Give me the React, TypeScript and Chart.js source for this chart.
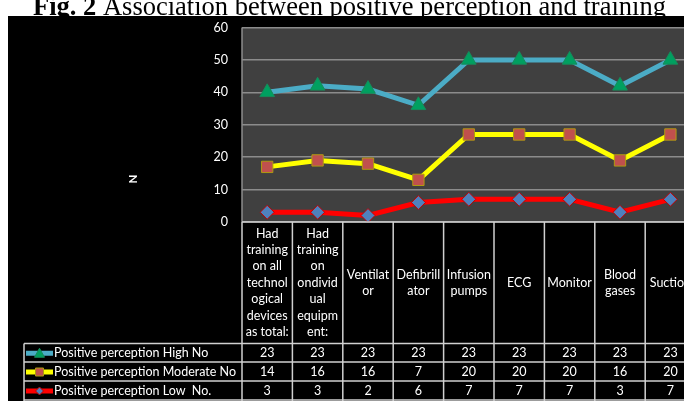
import React, { useEffect, useRef } from "react";
import { Chart, registerables } from "chart.js";

Chart.register(...registerables);

const titleBold = "Fig. 2";
const titleRest = " Association between positive perception and training";
const yAxisLabel = "N";

const categoryLines: string[][] = [
  ["Had", "training", "on all", "technol", "ogical", "devices", "as total:"],
  ["Had", "training", "on", "ondivid", "ual", "equipm", "ent:"],
  ["Ventilat", "or"],
  ["Defibrill", "ator"],
  ["Infusion", "pumps"],
  ["ECG"],
  ["Monitor"],
  ["Blood", "gases"],
  ["Suction"],
];
const categories = categoryLines.map((l) => l.join(""));

const seriesNames = [
  "Positive perception High No",
  "Positive perception Moderate No",
  "Positive perception Low  No.",
];
const highNo = [23, 23, 23, 23, 23, 23, 23, 23, 23];
const moderateNo = [14, 16, 16, 7, 20, 20, 20, 16, 20];
const lowNo = [3, 3, 2, 6, 7, 7, 7, 3, 7];

const yMin = 0;
const yMax = 60;
const yStep = 10;

const CANVAS_W = 720;
const CANVAS_H = 401;
const FONT = "Lato, 'Noto Sans', sans-serif";

const lineColors = ["#4bacc6", "#ffff00", "#ff0000"];
const markerFill = ["#00a060", "#c0504d", "#4f81bd"];
const markerBorder = ["#178a5a", "#b09a10", "#c00000"];
const markerStyle: any[] = ["triangle", "rect", "rectRot"];
const markerRadius = [8.5, 8, 7];

export default function App() {
  const ref = useRef<HTMLCanvasElement | null>(null);

  useEffect(() => {
    const canvas = ref.current;
    if (!canvas) return;
    const tableValues = [highNo, moderateNo, lowNo];

    const drawMarker = (ctx: CanvasRenderingContext2D, k: number, x: number, y: number, r: number) => {
      ctx.save();
      ctx.fillStyle = markerFill[k];
      ctx.strokeStyle = markerBorder[k];
      ctx.lineWidth = 1;
      ctx.beginPath();
      if (k === 0) {
        ctx.moveTo(x, y - r);
        ctx.lineTo(x + r, y + r * 0.8);
        ctx.lineTo(x - r, y + r * 0.8);
      } else if (k === 1) {
        ctx.rect(x - r, y - r, 2 * r, 2 * r);
      } else {
        ctx.moveTo(x, y - r);
        ctx.lineTo(x + r, y);
        ctx.lineTo(x, y + r);
        ctx.lineTo(x - r, y);
      }
      ctx.closePath();
      ctx.fill();
      ctx.stroke();
      ctx.restore();
    };

    const framePlugin = {
      id: "frame",
      beforeDraw(chart: any) {
        const ctx = chart.ctx as CanvasRenderingContext2D;
        const a = chart.chartArea;
        ctx.save();
        ctx.fillStyle = "#ffffff";
        ctx.fillRect(0, 0, CANVAS_W, CANVAS_H);
        // title
        ctx.fillStyle = "#000000";
        ctx.textBaseline = "alphabetic";
        ctx.textAlign = "left";
        ctx.font = "bold 26.5px 'Liberation Serif', serif";
        const tx = 33;
        const ty = 14.5;
        ctx.fillText(titleBold, tx, ty);
        const bw = ctx.measureText(titleBold).width;
        ctx.font = "26.5px 'Liberation Serif', serif";
        ctx.fillText(titleRest, tx + bw, ty);
        // black chart background
        ctx.fillStyle = "#000000";
        ctx.fillRect(8, 16, CANVAS_W - 8, CANVAS_H - 16);
        // plot area
        ctx.fillStyle = "#404040";
        ctx.fillRect(a.left, a.top, a.right - a.left, a.bottom - a.top);
        ctx.restore();
      },
      afterDraw(chart: any) {
        const ctx = chart.ctx as CanvasRenderingContext2D;
        const a = chart.chartArea;
        const n = categories.length;
        const colW = (a.right - a.left) / n;
        const headerTop = a.bottom;
        const rowTops = [343.5, 362, 381, 400];
        const legendLeft = 24;
        ctx.save();
        // left plot border
        ctx.strokeStyle = "#8c8c8c";
        ctx.lineWidth = 1.5;
        ctx.beginPath();
        ctx.moveTo(a.left, a.top);
        ctx.lineTo(a.left, a.bottom);
        ctx.stroke();

        // table grid
        ctx.strokeStyle = "#d0d0d0";
        ctx.lineWidth = 1.5;
        ctx.beginPath();
        ctx.moveTo(a.left, headerTop);
        ctx.lineTo(CANVAS_W, headerTop);
        for (const yy of rowTops) {
          ctx.moveTo(legendLeft, yy);
          ctx.lineTo(CANVAS_W, yy);
        }
        for (let i = 0; i <= n; i++) {
          const x = a.left + i * colW;
          ctx.moveTo(x, headerTop);
          ctx.lineTo(x, CANVAS_H);
        }
        ctx.moveTo(legendLeft, rowTops[0]);
        ctx.lineTo(legendLeft, CANVAS_H);
        ctx.stroke();

        // header text
        ctx.fillStyle = "#ffffff";
        ctx.textAlign = "center";
        ctx.textBaseline = "middle";
        ctx.font = `12.5px ${FONT}`;
        const lh = 16.4;
        const hc = (headerTop + rowTops[0]) / 2;
        categoryLines.forEach((lines, i) => {
          const cx = a.left + (i + 0.5) * colW;
          const y0 = hc - ((lines.length - 1) * lh) / 2;
          lines.forEach((s, j) => ctx.fillText(s, cx, y0 + j * lh));
        });

        // data rows
        for (let r = 0; r < 3; r++) {
          const cy = (rowTops[r] + rowTops[r + 1]) / 2 + 0.5;
          tableValues[r].forEach((v, i) => {
            const cx = a.left + (i + 0.5) * colW;
            ctx.fillText(String(v), cx, cy);
          });
          // legend key
          ctx.strokeStyle = lineColors[r];
          ctx.lineWidth = 5;
          ctx.beginPath();
          ctx.moveTo(26, cy);
          ctx.lineTo(53, cy);
          ctx.stroke();
          drawMarker(ctx, r, 39.5, cy, r === 0 ? 5 : 4);
          ctx.fillStyle = "#ffffff";
          ctx.textAlign = "left";
          ctx.fillText(seriesNames[r], 54, cy);
          ctx.textAlign = "center";
        }

        // axis title
        ctx.save();
        ctx.translate(133, 179);
        ctx.rotate(-Math.PI / 2);
        ctx.font = `bold 11.5px ${FONT}`;
        ctx.fillStyle = "#ffffff";
        ctx.textAlign = "center";
        ctx.textBaseline = "middle";
        ctx.fillText(yAxisLabel, 0, 0);
        ctx.restore();
        ctx.restore();
      },
    };

    // stacked: lowest series first
    const order = [2, 1, 0];
    const datasets = order.map((k) => ({
      label: seriesNames[k],
      data: [highNo, moderateNo, lowNo][k],
      borderColor: lineColors[k],
      backgroundColor: markerFill[k],
      borderWidth: 5,
      fill: false,
      tension: 0,
      pointStyle: markerStyle[k],
      pointRadius: markerRadius[k],
      pointBackgroundColor: markerFill[k],
      pointBorderColor: markerBorder[k],
      pointBorderWidth: 1,
    }));

    const chart = new Chart(canvas, {
      type: "line",
      data: { labels: categories, datasets },
      options: {
        responsive: false,
        maintainAspectRatio: false,
        devicePixelRatio: 1,
        animation: false,
        layout: {
          padding: { left: 8, top: 27.5, right: CANVAS_W - 695.6, bottom: CANVAS_H - 222 },
        },
        plugins: { legend: { display: false }, tooltip: { enabled: false }, title: { display: false } },
        scales: {
          x: { type: "category", display: false, offset: true, grid: { display: false } },
          y: {
            stacked: true,
            min: yMin,
            max: yMax,
            afterFit: (s: any) => {
              s.width = 234;
            },
            border: { display: false },
            grid: { color: "#8c8c8c", lineWidth: 1.5, drawTicks: false },
            ticks: {
              stepSize: yStep,
              color: "#ffffff",
              padding: 14,
              font: { family: FONT, size: 12.5 },
            },
          },
        },
      } as any,
      plugins: [framePlugin],
    });
    return () => chart.destroy();
  }, []);

  return (
    <div
      style={{
        position: "fixed",
        left: 0,
        top: 0,
        width: 684,
        height: 401,
        overflow: "hidden",
        background: "#ffffff",
      }}
    >
      <canvas
        ref={ref}
        width={CANVAS_W}
        height={CANVAS_H}
        style={{ position: "absolute", left: 0, top: 0, width: CANVAS_W, height: CANVAS_H }}
      />
    </div>
  );
}
